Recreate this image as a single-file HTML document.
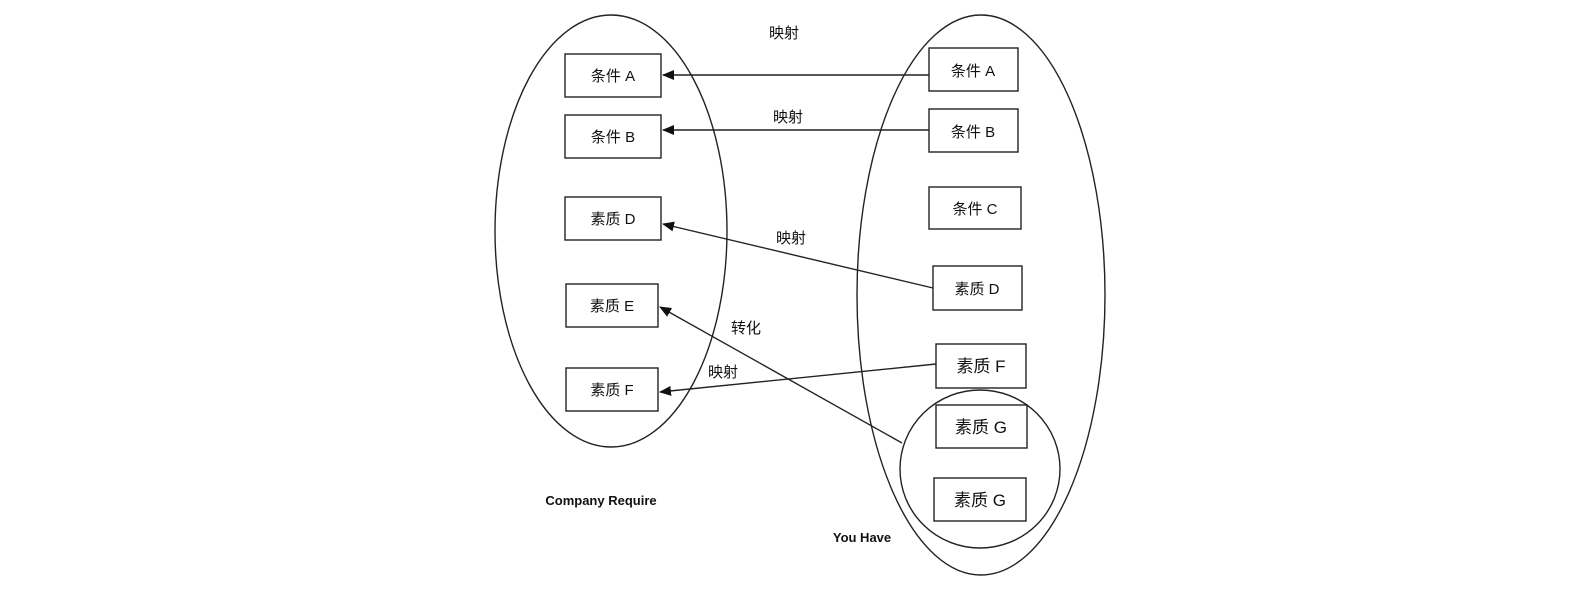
<!DOCTYPE html>
<html><head><meta charset="utf-8"><style>
html,body{margin:0;padding:0;background:#fff;}
svg text{font-family:"Liberation Sans","Noto Sans CJK SC",sans-serif;fill:#111;}
</style></head><body>
<svg width="1581" height="591" viewBox="0 0 1581 591" xmlns="http://www.w3.org/2000/svg">
<defs><marker id="a" markerWidth="12" markerHeight="10" refX="11" refY="5" orient="auto" markerUnits="userSpaceOnUse"><path d="M0,0 L12,5 L0,10 Z" fill="#111"/></marker></defs>
<g fill="none" stroke="#222" stroke-width="1.4">
<ellipse cx="611" cy="231" rx="116" ry="216"/>
<ellipse cx="981" cy="295" rx="124" ry="280"/>
<ellipse cx="980" cy="469" rx="80" ry="79"/>
<rect x="565" y="54" width="96" height="43"/>
<rect x="565" y="115" width="96" height="43"/>
<rect x="565" y="197" width="96" height="43"/>
<rect x="566" y="284" width="92" height="43"/>
<rect x="566" y="368" width="92" height="43"/>
<rect x="929" y="48" width="89" height="43"/>
<rect x="929" y="109" width="89" height="43"/>
<rect x="929" y="187" width="92" height="42"/>
<rect x="933" y="266" width="89" height="44"/>
<rect x="936" y="344" width="90" height="44"/>
<rect x="936" y="405" width="91" height="43"/>
<rect x="934" y="478" width="92" height="43"/>
<line x1="929" y1="75" x2="663" y2="75" marker-end="url(#a)"/>
<line x1="929" y1="130" x2="663" y2="130" marker-end="url(#a)"/>
<line x1="933" y1="288" x2="663" y2="224" marker-end="url(#a)"/>
<line x1="936" y1="364" x2="660" y2="392" marker-end="url(#a)"/>
<line x1="902" y1="443" x2="660" y2="307" marker-end="url(#a)"/>
</g>
<g font-size="15" text-anchor="middle">
<text x="613" y="81">条件 A</text>
<text x="613" y="142">条件 B</text>
<text x="613" y="224">素质 D</text>
<text x="612" y="311">素质 E</text>
<text x="612" y="395">素质 F</text>
<text x="973" y="76">条件 A</text>
<text x="973" y="137">条件 B</text>
<text x="975" y="214">条件 C</text>
<text x="977" y="294">素质 D</text>
<text x="981" y="372" font-size="17">素质 F</text>
<text x="981" y="433" font-size="17">素质 G</text>
<text x="980" y="506" font-size="17">素质 G</text>
<text x="784" y="38">映射</text>
<text x="788" y="122">映射</text>
<text x="791" y="243">映射</text>
<text x="746" y="333">转化</text>
<text x="723" y="377">映射</text>
</g>
<text x="601" y="505" font-size="13" font-weight="bold" text-anchor="middle">Company Require</text>
<text x="862" y="542" font-size="13" font-weight="bold" text-anchor="middle">You Have</text>
</svg>
</body></html>
